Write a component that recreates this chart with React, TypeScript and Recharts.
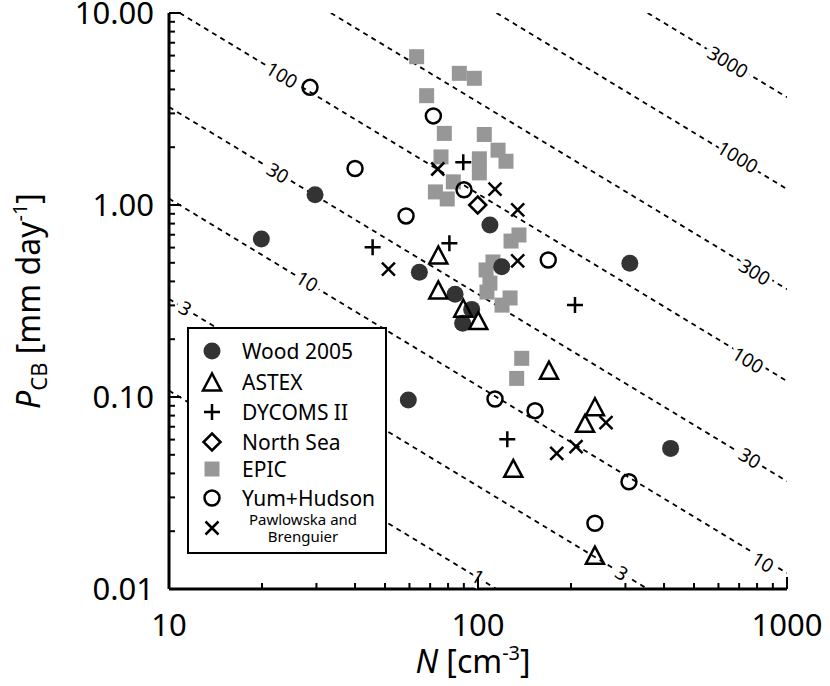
import { Scatter, ScatterChart, XAxis, YAxis } from "recharts";

// Wood 2005
const woodN = [19.9, 29.7, 64.6, 84.3, 95.4, 89.2, 109.3, 119.3, 310, 59.5, 420];
const woodP = [0.665, 1.13, 0.446, 0.343, 0.286, 0.242, 0.787, 0.477, 0.497, 0.0965, 0.054];
// ASTEX
const astexN = [74.4, 74.4, 89.6, 100.2, 169.7, 130.1, 239, 222, 239];
const astexP = [0.549, 0.361, 0.29, 0.25, 0.138, 0.0425, 0.089, 0.0729, 0.015];
// DYCOMS II
const dycomsN = [89.6, 80.8, 45.6, 206, 124.4];
const dycomsP = [1.67, 0.632, 0.602, 0.301, 0.0602];
// North Sea
const northSeaN = [99.8];
const northSeaP = [1.0];
// EPIC
const epicN = [63.3, 87.0, 97.3, 68.2, 77.8, 104.8, 116.1, 123.2, 75.9, 101, 101, 83.2, 72.8, 79.5, 135.7, 127.9, 111.8, 106.2, 109.3, 106.9, 127, 119.6, 138.5, 133.4];
const epicP = [5.92, 4.85, 4.57, 3.71, 2.36, 2.33, 1.93, 1.69, 1.78, 1.74, 1.47, 1.32, 1.17, 1.075, 0.698, 0.649, 0.505, 0.459, 0.392, 0.352, 0.328, 0.301, 0.159, 0.125];
// Yum+Hudson
const yumN = [28.6, 71.7, 90.1, 40.0, 58.5, 168.8, 113.5, 153, 308, 239];
const yumP = [4.1, 2.91, 1.2, 1.55, 0.877, 0.517, 0.0976, 0.0849, 0.0362, 0.022];
// Pawlowska and Brenguier
const pawN = [74.1, 113.5, 51.3, 134.4, 134.4, 179.8, 207.6, 259.6];
const pawP = [1.54, 1.21, 0.464, 0.942, 0.511, 0.0509, 0.0551, 0.0735];

// dashed contour lines, end points
const contourStartN = [10, 10, 10, 10, 10.83, 33.4, 114.8, 354];
const contourStartP = [0.108, 0.324, 1.08, 3.24, 10, 10, 10, 10];
const contourEndN = [114.8, 354, 1000, 1000, 1000, 1000, 1000, 1000];
const contourEndP = [0.01, 0.01, 0.0121, 0.0364, 0.121, 0.364, 1.21, 3.64];

// contour labels
const labelText = ["100", "30", "10", "3", "1", "3", "10", "30", "100", "300", "1000", "3000"];
const labelN = [23.2, 22.5, 28.0, 11.3, 100, 292, 836, 759, 748, 787, 693, 644];
const labelP = [4.75, 1.47, 0.4, 0.29, 0.0116, 0.0121, 0.0138, 0.0481, 0.156, 0.448, 1.78, 5.56];

const xMajor = [10, 100, 1000];
const xTicks = [10, 20, 30, 40, 50, 60, 70, 80, 90, 100, 200, 300, 400, 500, 600, 700, 800, 900, 1000];
const yMajor = [0.01, 0.1, 1, 10];
const yTicks = [
  0.01, 0.02, 0.03, 0.04, 0.05, 0.06, 0.07, 0.08, 0.09,
  0.1, 0.2, 0.3, 0.4, 0.5, 0.6, 0.7, 0.8, 0.9,
  1, 2, 3, 4, 5, 6, 7, 8, 9, 10,
];
const yLabels = ["0.01", "0.10", "1.00", "10.00"];

const zip = (n: number[], p: number[]) => n.map((v, i) => ({ n: v, p: p[i] }));

const FONT = "'Noto Sans', 'Open Sans', sans-serif";
const INK = "#000";
const SW = 2.5;

const FilledCircle = ({ cx, cy }: any) => <circle cx={cx} cy={cy} r={8.5} fill="#333" />;
const OpenTriangle = ({ cx, cy }: any) => (
  <polygon points={`${cx},${cy - 8.5} ${cx - 9},${cy + 8.5} ${cx + 9},${cy + 8.5}`} fill="none" stroke={INK} strokeWidth={SW} />
);
const Plus = ({ cx, cy }: any) => (
  <path d={`M${cx - 8},${cy}H${cx + 8}M${cx},${cy - 8}V${cy + 8}`} stroke={INK} strokeWidth={SW} />
);
const Diamond = ({ cx, cy }: any) => (
  <polygon points={`${cx},${cy - 8.5} ${cx + 8.5},${cy} ${cx},${cy + 8.5} ${cx - 8.5},${cy}`} fill="none" stroke={INK} strokeWidth={SW} />
);
const GraySquare = ({ cx, cy }: any) => <rect x={cx - 7.5} y={cy - 7.5} width={15} height={15} fill="#979797" />;
const OpenCircle = ({ cx, cy }: any) => <circle cx={cx} cy={cy} r={7.5} fill="none" stroke={INK} strokeWidth={SW} />;
const Cross = ({ cx, cy }: any) => (
  <path d={`M${cx - 6.5},${cy - 6.5}L${cx + 6.5},${cy + 6.5}M${cx - 6.5},${cy + 6.5}L${cx + 6.5},${cy - 6.5}`} stroke={INK} strokeWidth={SW} />
);
const NoShape = () => <g />;

const ContourLabel = ({ cx, cy, payload }: any) => (
  <text
    x={cx}
    y={cy}
    transform={`rotate(31.2 ${cx} ${cy})`}
    textAnchor="middle"
    dominantBaseline="central"
    fontFamily={FONT}
    fontSize={19}
    fill={INK}
    stroke="#fff"
    strokeWidth={8}
    paintOrder="stroke"
  >
    {payload.label}
  </text>
);

const BottomTick = ({ x, y, payload }: any) => {
  const major = xMajor.includes(payload.value);
  return (
    <g>
      <line x1={x} y1={y} x2={x} y2={y - (major ? 12 : 6)} stroke={INK} strokeWidth={2} />
      {major && (
        <text x={x} y={y + 47} textAnchor="middle" fontFamily={FONT} fontSize={31} fill={INK}>
          {payload.value}
        </text>
      )}
    </g>
  );
};
const TopTick = ({ x, y, payload }: any) => {
  const major = xMajor.includes(payload.value);
  return <line x1={x} y1={y} x2={x} y2={y + (major ? 12 : 6)} stroke={INK} strokeWidth={2} />;
};
const LeftTick = ({ x, y, payload }: any) => {
  const idx = yMajor.indexOf(payload.value);
  return (
    <g>
      <line x1={x} y1={y} x2={x + (idx >= 0 ? 12 : 6)} y2={y} stroke={INK} strokeWidth={2} />
      {idx >= 0 && (
        <text x={x - 15} y={y + 11} textAnchor="end" fontFamily={FONT} fontSize={31} fill={INK}>
          {yLabels[idx]}
        </text>
      )}
    </g>
  );
};
const RightTick = ({ x, y, payload }: any) => {
  const major = yMajor.includes(payload.value);
  return <line x1={x} y1={y} x2={x - (major ? 12 : 6)} y2={y} stroke={INK} strokeWidth={2} />;
};

const legendItems = [
  { name: "Wood 2005", Shape: FilledCircle },
  { name: "ASTEX", Shape: OpenTriangle },
  { name: "DYCOMS II", Shape: Plus },
  { name: "North Sea", Shape: Diamond },
  { name: "EPIC", Shape: GraySquare },
  { name: "Yum+Hudson", Shape: OpenCircle },
];
const legendRowY = [22, 53, 83, 113, 140, 169];

function LegendBox() {
  return (
    <div
      style={{
        position: "absolute",
        left: 187,
        top: 327,
        width: 200,
        height: 227,
        border: "2.5px solid #000",
        boxSizing: "border-box",
        background: "#fff",
      }}
    >
      <svg width={196} height={222} style={{ display: "block" }}>
        {legendItems.map(({ name, Shape }, i) => (
          <g key={name}>
            <Shape cx={23} cy={legendRowY[i]} />
            <text x={53} y={legendRowY[i] + 7.5} fontFamily={FONT} fontSize={21} fill={INK}>
              {name}
            </text>
          </g>
        ))}
        <Cross cx={23} cy={199} />
        <text x={114} y={196} textAnchor="middle" fontFamily={FONT} fontSize={15} fill={INK}>
          Pawlowska and
        </text>
        <text x={114} y={213} textAnchor="middle" fontFamily={FONT} fontSize={15} fill={INK}>
          Brenguier
        </text>
      </svg>
    </div>
  );
}

export default function App() {
  const contours = contourStartN.map((n, i) => [
    { n, p: contourStartP[i] },
    { n: contourEndN[i], p: contourEndP[i] },
  ]);
  const labels = labelN.map((n, i) => ({ n, p: labelP[i], label: labelText[i] }));

  return (
    <div style={{ position: "absolute", left: 0, top: 0, width: 830, height: 686, background: "#fff" }}>
      <ScatterChart width={830} height={686} margin={{ top: 13, right: 43, bottom: 0, left: 0 }}>
        <XAxis
          dataKey="n"
          type="number"
          scale="log"
          domain={[10, 1000]}
          allowDataOverflow
          ticks={xTicks}
          interval={0}
          tick={<BottomTick />}
          tickLine={false}
          tickSize={0}
          tickMargin={0}
          height={97}
          axisLine={{ stroke: INK, strokeWidth: 3 }}
        />
        <XAxis
          xAxisId="top"
          orientation="top"
          dataKey="n"
          type="number"
          scale="log"
          domain={[10, 1000]}
          allowDataOverflow
          ticks={xTicks}
          interval={0}
          tick={<TopTick />}
          tickLine={false}
          tickSize={0}
          tickMargin={0}
          height={0}
          axisLine={{ stroke: INK, strokeWidth: 3 }}
        />
        <YAxis
          dataKey="p"
          type="number"
          scale="log"
          domain={[0.01, 10]}
          allowDataOverflow
          ticks={yTicks}
          interval={0}
          tick={<LeftTick />}
          tickLine={false}
          tickSize={0}
          tickMargin={0}
          width={169}
          axisLine={{ stroke: INK, strokeWidth: 3 }}
        />
        <YAxis
          yAxisId="right"
          orientation="right"
          dataKey="p"
          type="number"
          scale="log"
          domain={[0.01, 10]}
          allowDataOverflow
          ticks={yTicks}
          interval={0}
          tick={<RightTick />}
          tickLine={false}
          tickSize={0}
          tickMargin={0}
          width={0}
          axisLine={{ stroke: INK, strokeWidth: 3 }}
        />

        {contours.map((seg, i) => (
          <Scatter
            key={`c${i}`}
            data={seg}
            shape={NoShape}
            line={{ stroke: INK, strokeWidth: 1.8, strokeDasharray: "5 4.5" }}
            isAnimationActive={false}
          />
        ))}
        <Scatter data={labels} shape={ContourLabel} isAnimationActive={false} />

        <Scatter name="EPIC" data={zip(epicN, epicP)} shape={GraySquare} isAnimationActive={false} />
        <Scatter name="Wood 2005" data={zip(woodN, woodP)} shape={FilledCircle} isAnimationActive={false} />
        <Scatter name="ASTEX" data={zip(astexN, astexP)} shape={OpenTriangle} isAnimationActive={false} />
        <Scatter name="DYCOMS II" data={zip(dycomsN, dycomsP)} shape={Plus} isAnimationActive={false} />
        <Scatter name="North Sea" data={zip(northSeaN, northSeaP)} shape={Diamond} isAnimationActive={false} />
        <Scatter name="Yum+Hudson" data={zip(yumN, yumP)} shape={OpenCircle} isAnimationActive={false} />
        <Scatter name="Pawlowska and Brenguier" data={zip(pawN, pawP)} shape={Cross} isAnimationActive={false} />
      </ScatterChart>

      <LegendBox />

      <svg width={830} height={686} style={{ position: "absolute", left: 0, top: 0, pointerEvents: "none" }}>
        <text x={473} y={673} textAnchor="middle" fontFamily={FONT} fontSize={32} fill={INK}>
          <tspan fontStyle="italic">N</tspan>
          <tspan> [cm</tspan>
          <tspan fontSize={20} dy={-13}>-3</tspan>
          <tspan dy={13}>]</tspan>
        </text>
        <text
          x={0}
          y={0}
          transform="translate(40 301) rotate(-90)"
          textAnchor="middle"
          fontFamily={FONT}
          fontSize={32}
          fill={INK}
        >
          <tspan fontStyle="italic">P</tspan>
          <tspan fontSize={22} dy={7}>CB</tspan>
          <tspan dy={-7}>{"  [mm day"}</tspan>
          <tspan fontSize={20} dy={-13}>-1</tspan>
          <tspan dy={13}>]</tspan>
        </text>
      </svg>
    </div>
  );
}
